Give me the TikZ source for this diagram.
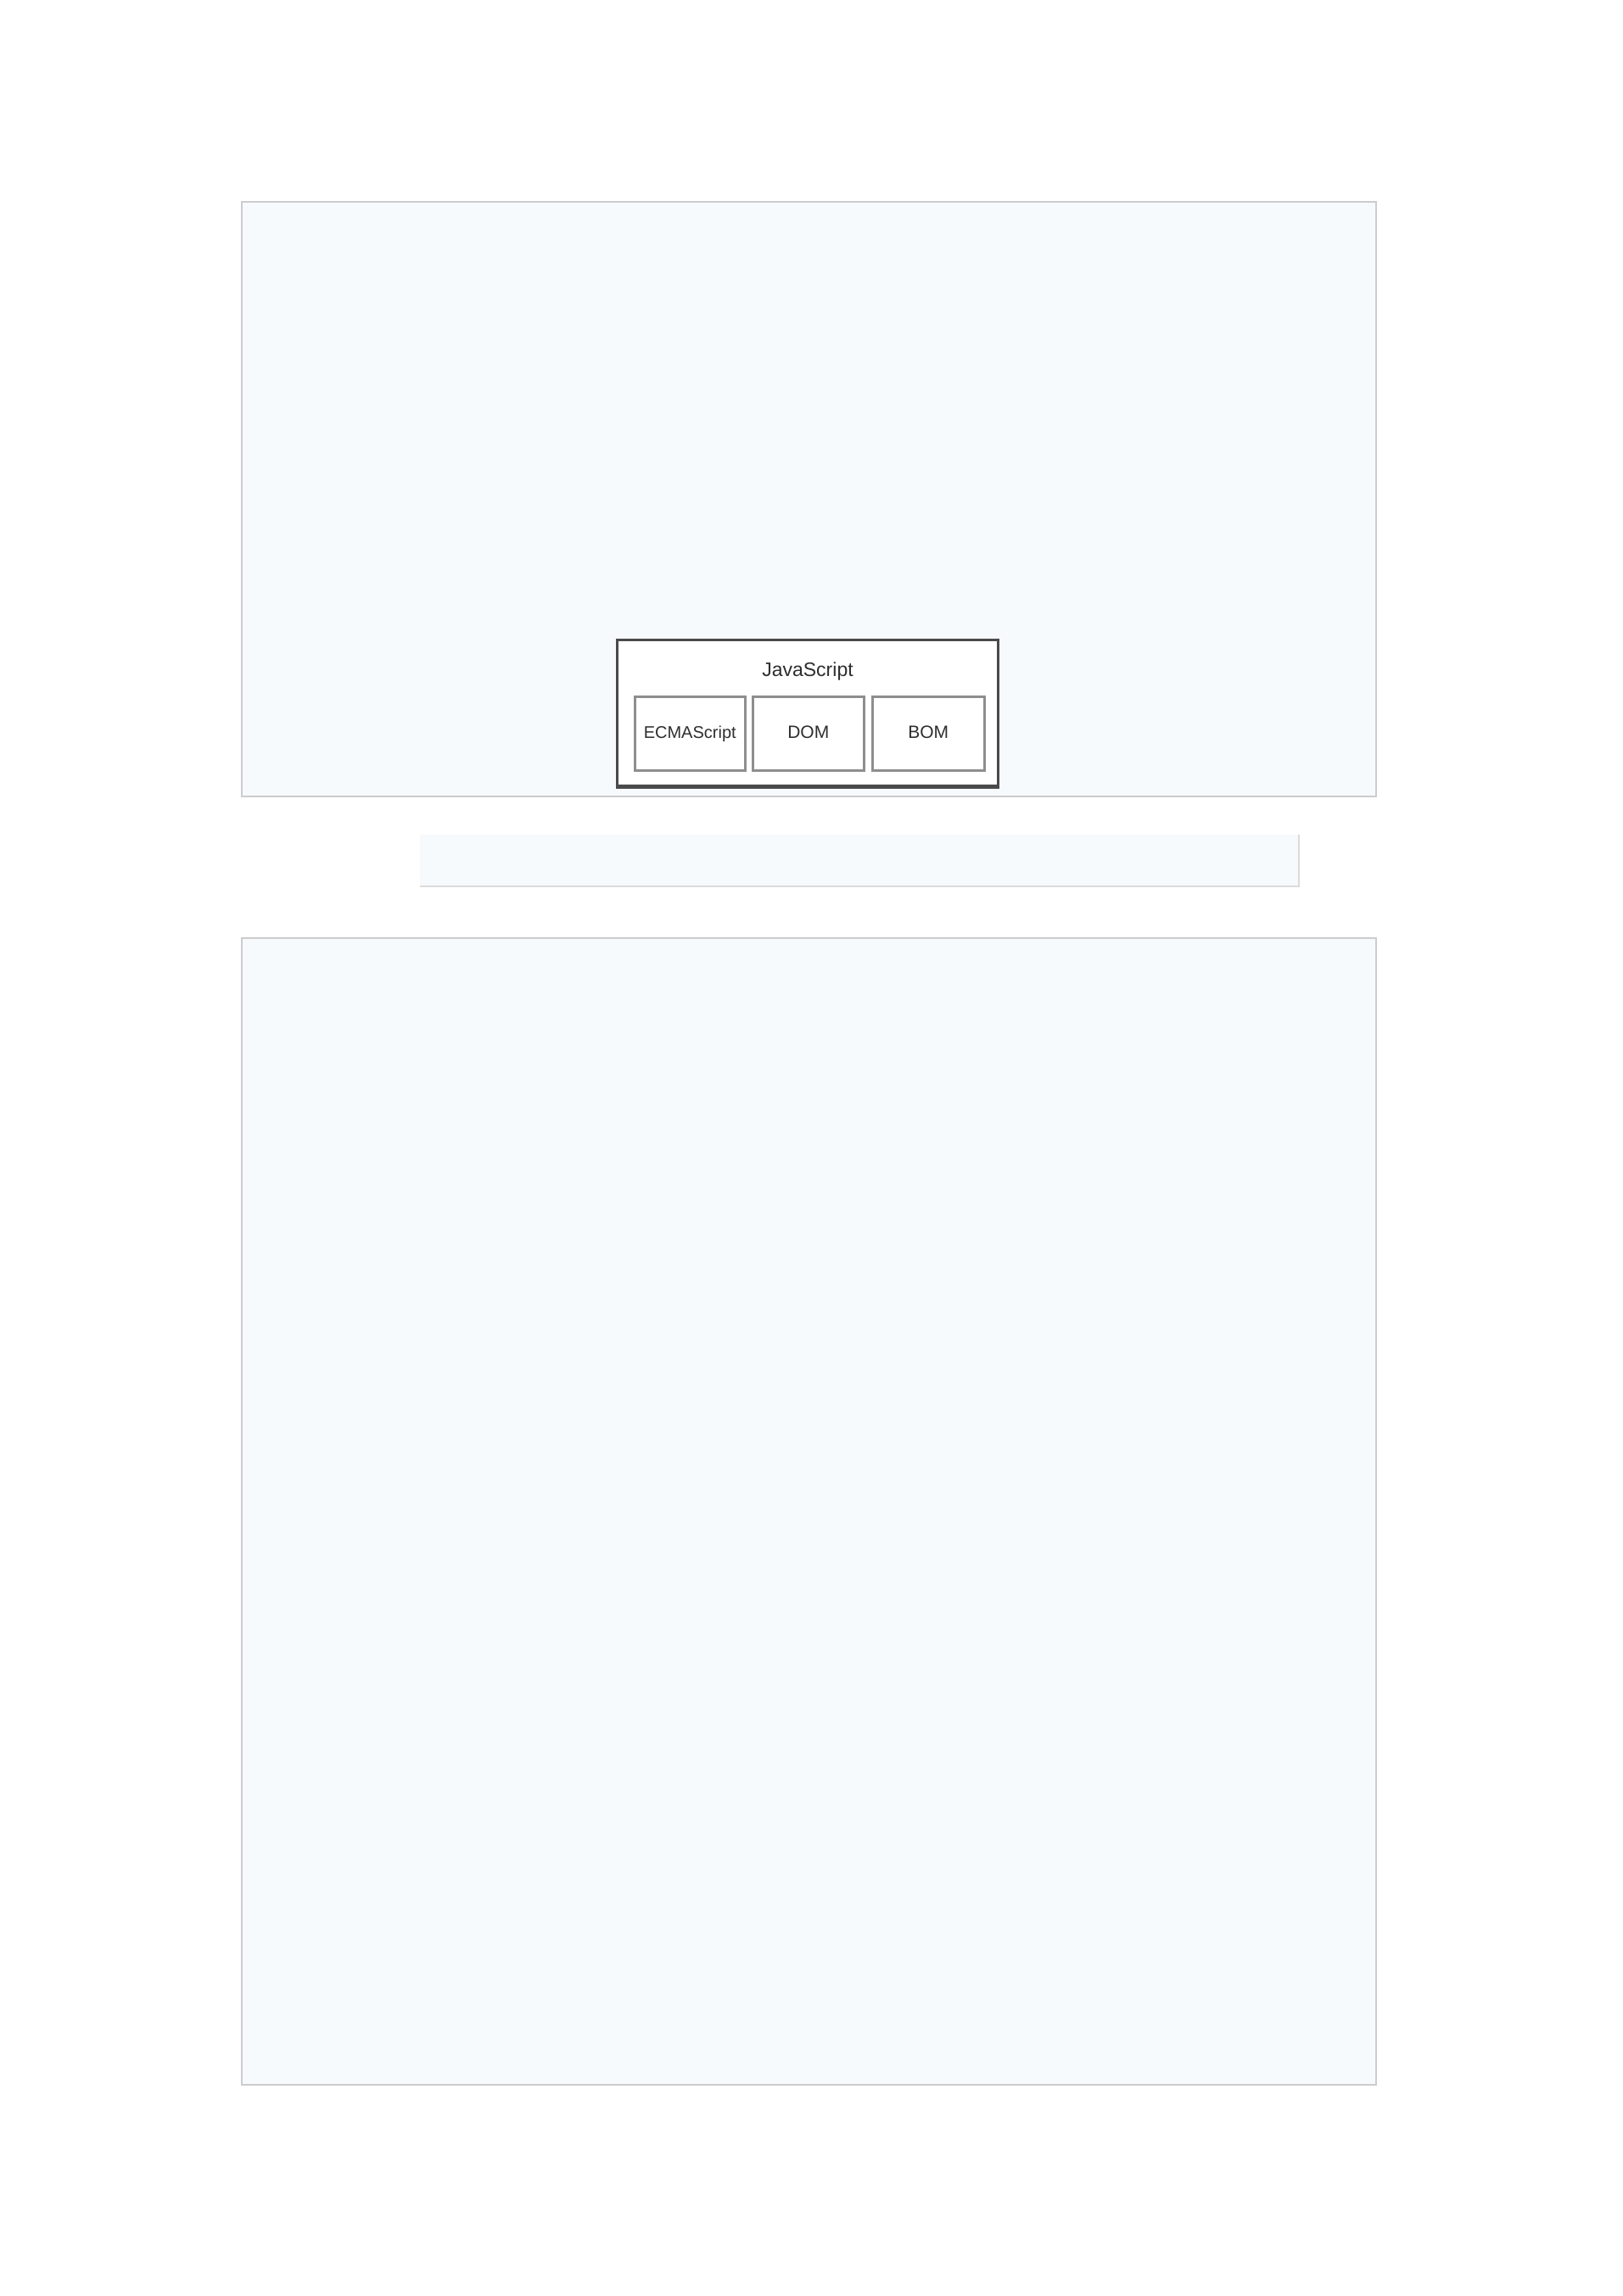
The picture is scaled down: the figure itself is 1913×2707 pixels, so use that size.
\documentclass[tikz,border=0pt]{standalone}
\usepackage{fontspec}
\setmainfont{Liberation Sans}
\definecolor{panelfill}{HTML}{F7FAFD}
\definecolor{panelline}{HTML}{CCCCCC}
\definecolor{jsline}{HTML}{4A4A4A}
\definecolor{subline}{HTML}{8E8E8E}
\definecolor{txt}{HTML}{2E2E2E}
\begin{document}
\begin{tikzpicture}[x=1pt,y=-1pt,
  panel/.style={fill=panelfill,draw=panelline,line width=2.5pt},
  jsbox/.style={fill=white,draw=jsline,line width=3pt},
  subbox/.style={fill=white,draw=subline,line width=2.5pt,text=txt,
    font=\fontsize{21}{25}\selectfont,inner sep=0pt,
    text height=15pt,text depth=4pt,
    minimum height=87pt,anchor=north west},
  lbl/.style={text=txt,inner sep=0pt}]
\useasboundingbox (0,0) rectangle (1913,2707);
\fill[white] (0,0) rectangle (1913,2707);
% top panel
\draw[panel] (285,238) rectangle (1622,939);
% middle strip
\fill[panelfill] (495,984) rectangle (1531,1045);
\draw[draw=panelline!70,line width=2pt] (1531,984) -- (1531,1045) -- (495,1045);
% bottom panel
\draw[panel] (285,1106) rectangle (1622,2458);
% JavaScript box
\draw[jsbox] (727,754) rectangle (1176,928);
\draw[jsline,line width=5pt] (727,927) -- (1176,927);
\node[lbl,font=\fontsize{23}{27}\selectfont] (js) at (952,792) {JavaScript};
\node[subbox,minimum width=130pt] (ecma) at (747,820) {\fontsize{20}{24}\selectfont ECMAScript};
\node[subbox,minimum width=131pt] (dom) at (886,820) {DOM};
\node[subbox,minimum width=132pt] (bom) at (1027,820) {BOM};
\end{tikzpicture}
\end{document}
